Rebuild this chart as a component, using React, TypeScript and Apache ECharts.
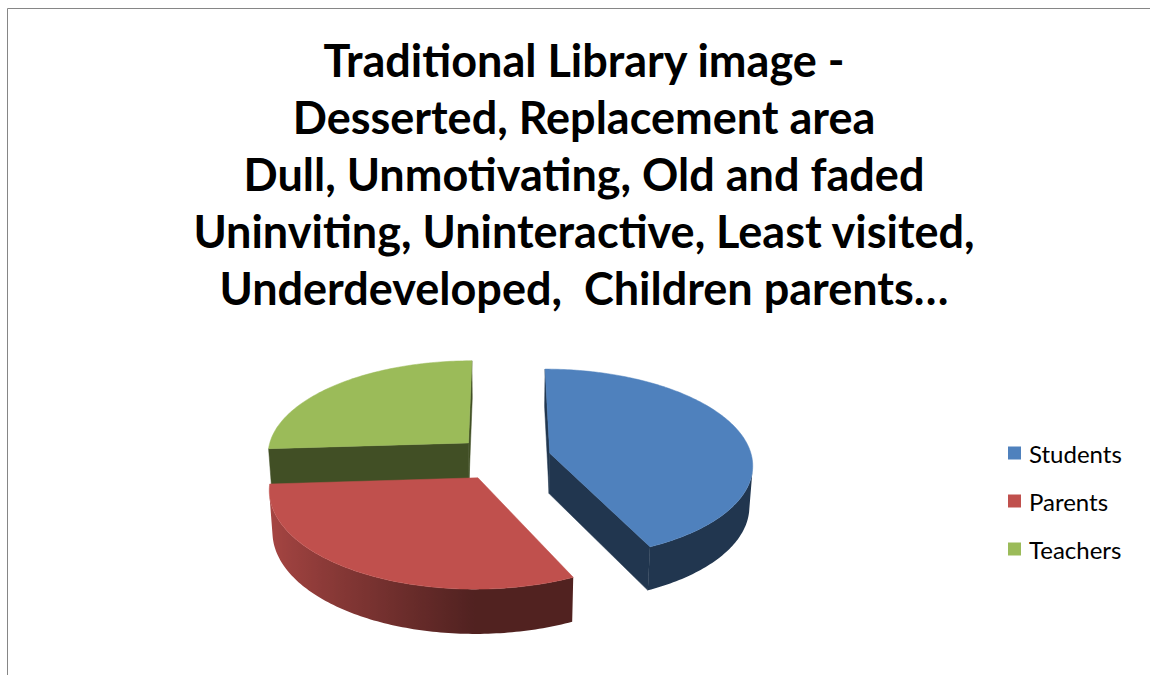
import React, { useEffect, useRef } from 'react';
import * as echarts from 'echarts';

const categories = ['Students', 'Parents', 'Teachers'];
const values = [43, 31, 26];
const colors = ['#4F81BD', '#C0504D', '#9BBB59'];
const titleLines = [
  'Traditional Library image -',
  'Desserted, Replacement area',
  'Dull, Unmotivating, Old and faded',
  'Uninviting, Uninteractive, Least visited,',
  'Underdeveloped,  Children parents…',
];

// 3D projection settings (layout only)
const CX = 503;
const CY = 458;
const G = 202.3;
const DIST = 8;
const F = G * DIST;
const ALPHA = (27.8 * Math.PI) / 180;
const SA = Math.sin(ALPHA);
const CA = Math.cos(ALPHA);
const EXPLODE = 0.238;
const THICK = 0.23;
const CAM = [0, DIST * SA, DIST * CA];

function project(x: number, y: number, z: number): number[] {
  const depth = DIST - y * SA - z * CA;
  return [CX + (F * x) / depth, CY + (F * (z * SA - y * CA)) / depth];
}

function shade(hex: string, b: number): string {
  const n = parseInt(hex.slice(1), 16);
  const r = Math.min(255, Math.round(((n >> 16) & 255) * b));
  const g = Math.min(255, Math.round(((n >> 8) & 255) * b));
  const bl = Math.min(255, Math.round((n & 255) * b));
  return `rgb(${r},${g},${bl})`;
}

function visible(n: number[], p: number[]): boolean {
  return n[0] * (CAM[0] - p[0]) + n[1] * (CAM[1] - p[1]) + n[2] * (CAM[2] - p[2]) > 0;
}

const total = values.reduce((a, b) => a + b, 0);
const starts = values.map((_, i) => values.slice(0, i).reduce((a, b) => a + b, 0));

function makeRenderItem(base: string) {
  return (params: any, api: any) => {
    const start = api.value(0);
    const val = api.value(1);
    const a0 = (start / total) * Math.PI * 2;
    const a1 = ((start + val) / total) * Math.PI * 2;
    const mid = (a0 + a1) / 2;
    const ox = EXPLODE * Math.sin(mid);
    const oz = -EXPLODE * Math.cos(mid);
    const rim = (a: number, y: number) => project(ox + Math.sin(a), y, oz - Math.cos(a));
    const ctr = (y: number) => project(ox, y, oz);
    const dark = shade(base, 0.42);
    const children: any[] = [];
    const P0 = [ox, 0, oz];
    const face = (a: number) => ({
      type: 'polygon',
      shape: { points: [ctr(0), rim(a, 0), rim(a, -THICK), ctr(-THICK)] },
      style: { fill: dark, stroke: dark, lineWidth: 0.5 },
    });
    if (visible([-Math.cos(a0), 0, -Math.sin(a0)], P0)) children.push(face(a0));
    if (visible([Math.cos(a1), 0, Math.sin(a1)], P0)) children.push(face(a1));

    const N = Math.max(12, Math.ceil((a1 - a0) / (Math.PI / 180)));
    const vis: number[] = [];
    for (let i = 0; i <= N; i++) {
      const t = a0 + ((a1 - a0) * i) / N;
      const n = [Math.sin(t), 0, -Math.cos(t)];
      const p = [ox + Math.sin(t), 0, oz - Math.cos(t)];
      if (visible(n, p)) vis.push(t);
    }
    if (vis.length > 1) {
      const top = vis.map((t) => rim(t, 0));
      const bot = vis.map((t) => rim(t, -THICK)).reverse();
      const xs = top.map((p) => p[0]);
      const minX = Math.min(...xs);
      const maxX = Math.max(...xs);
      const stops = vis
        .map((t, i) => ({
          offset: maxX > minX ? (xs[i] - minX) / (maxX - minX) : 0,
          color: shade(base, 0.42 + 0.46 * Math.max(0, -Math.sin(t))),
        }))
        .sort((a, b) => a.offset - b.offset);
      const grad = new echarts.graphic.LinearGradient(0, 0, 1, 0, stops);
      children.push({
        type: 'polygon',
        shape: { points: top.concat(bot) },
        style: { fill: grad },
      });
    }
    const topPts: number[][] = [ctr(0)];
    for (let i = 0; i <= N; i++) topPts.push(rim(a0 + ((a1 - a0) * i) / N, 0));
    children.push({
      type: 'polygon',
      shape: { points: topPts },
      style: { fill: base, stroke: base, lineWidth: 0.5 },
    });
    return { type: 'group', children };
  };
}

export default function App() {
  const ref = useRef<HTMLDivElement>(null);
  useEffect(() => {
    document.body.style.margin = '0';
    if (!ref.current) return;
    const chart = echarts.init(ref.current, undefined, { renderer: 'svg' });
    const order = categories
      .map((_, i) => i)
      .sort((i, j) => {
        const mi = ((starts[i] + values[i] / 2) / total) * Math.PI * 2;
        const mj = ((starts[j] + values[j] / 2) / total) * Math.PI * 2;
        return -Math.cos(mi) - -Math.cos(mj);
      });
    const series = order.map((i) => ({
      type: 'custom',
      name: categories[i],
      coordinateSystem: 'none',
      itemStyle: { color: colors[i] },
      renderItem: makeRenderItem(colors[i]),
      data: [[starts[i], values[i]]],
      silent: true,
    }));
    chart.setOption({
      animation: false,
      backgroundColor: '#ffffff',
      legend: {
        orient: 'vertical',
        left: 1003,
        top: 436,
        itemWidth: 13,
        itemHeight: 13,
        itemGap: 24,
        icon: 'rect',
        selectedMode: false,
        data: categories,
        textStyle: {
          fontFamily: 'Lato',
          fontSize: 24,
          color: '#000',
          lineHeight: 24,
          padding: [0, 0, 0, 3],
        },
      },
      graphic: [
        {
          type: 'rect',
          silent: true,
          shape: { x: 7.5, y: 8.5, width: 1200, height: 700 },
          style: { fill: 'none', stroke: '#868686', lineWidth: 1 },
        },
        ...titleLines.map((t, i) => ({
          type: 'text',
          silent: true,
          x: 584,
          y: 59.5 + i * 57,
          style: {
            text: t,
            font: 'bold 45px Lato',
            fill: '#000',
            align: 'center',
            verticalAlign: 'middle',
            textAlign: 'center',
            textVerticalAlign: 'middle',
          },
        })),
      ],
      series,
    });
    return () => chart.dispose();
  }, []);
  return <div ref={ref} style={{ width: 1150, height: 675 }} />;
}
